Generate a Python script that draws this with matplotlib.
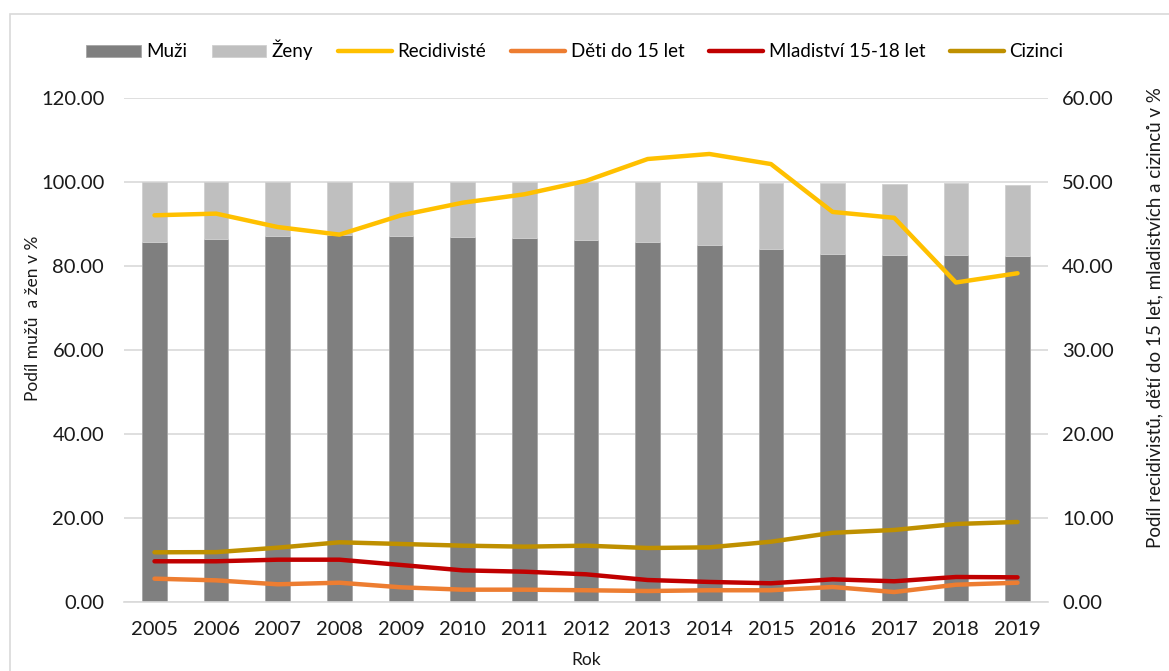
import matplotlib.pyplot as plt
from matplotlib.patches import Rectangle
import numpy as np

plt.rcParams['font.family'] = ['Lato', 'DejaVu Sans']

roky = ['2005', '2006', '2007', '2008', '2009', '2010', '2011', '2012',
        '2013', '2014', '2015', '2016', '2017', '2018', '2019']
muzi = [85.6, 86.4, 87.1, 87.3, 87.1, 86.8, 86.6, 86.1,
        85.6, 84.9, 84.0, 82.8, 82.5, 82.5, 82.2]
zeny = [14.4, 13.6, 12.9, 12.7, 12.9, 13.2, 13.4, 13.9,
        14.3, 15.1, 15.6, 16.8, 16.9, 17.1, 17.0]
recidiviste = [46.0, 46.2, 44.6, 43.7, 46.0, 47.5, 48.5, 50.1,
               52.7, 53.3, 52.1, 46.4, 45.7, 38.0, 39.1]
deti = [2.74, 2.54, 2.07, 2.26, 1.71, 1.43, 1.43, 1.36,
        1.27, 1.36, 1.36, 1.75, 1.15, 2.02, 2.26]
mladistvi = [4.81, 4.81, 5.0, 5.0, 4.37, 3.73, 3.57, 3.26,
             2.58, 2.35, 2.19, 2.66, 2.43, 2.94, 2.9]
cizinci = [5.88, 5.9, 6.43, 7.07, 6.87, 6.67, 6.55, 6.67,
           6.39, 6.47, 7.14, 8.2, 8.54, 9.25, 9.49]

x = np.arange(len(roky))
W, H = 1169, 671

fig = plt.figure(figsize=(W / 100, H / 100), dpi=100)
# chart area border (open to the right and bottom, as in the source crop)
fig.patches.append(Rectangle((10 / W, -0.05), 1.1, 1 - 14 / H + 0.05, transform=fig.transFigure,
                             fill=False, edgecolor='#d9d9d9', linewidth=1.2))
ax = fig.add_axes([0.1058, 0.1033, 0.791, 0.7511])
ax2 = ax.twinx()

b1 = ax.bar(x, muzi, width=0.4, color='#7f7f7f', edgecolor='#a6a6a6', linewidth=0.6,
            label='Muži', zorder=2)
b2 = ax.bar(x, zeny, width=0.4, bottom=muzi, color='#bfbfbf', edgecolor='#d0d0d0',
            linewidth=0.6, label='Ženy', zorder=2)

lw = 3.2
l1, = ax2.plot(x, recidiviste, color='#ffc000', lw=lw, solid_capstyle='round', label='Recidivisté')
l2, = ax2.plot(x, deti, color='#ed7d31', lw=lw, solid_capstyle='round', label='Děti do 15 let')
l3, = ax2.plot(x, mladistvi, color='#c00000', lw=lw, solid_capstyle='round', label='Mladiství 15-18 let')
l4, = ax2.plot(x, cizinci, color='#bf9000', lw=lw, solid_capstyle='round', label='Cizinci')

ax.set_xlim(-0.5, len(roky) - 0.5)
ax.set_ylim(0, 120)
ax2.set_ylim(0, 60)
ax.set_yticks(np.arange(0, 121, 20))
ax2.set_yticks(np.arange(0, 61, 10))
ax.yaxis.set_major_formatter(lambda v, p: f'{v:.2f}')
ax2.yaxis.set_major_formatter(lambda v, p: f'{v:.2f}')
ax.set_xticks(x)
ax.set_xticklabels(roky)

ax.grid(axis='y', color='#d9d9d9', linewidth=1.2, zorder=0)
ax.set_axisbelow(True)
for a in (ax, ax2):
    for s in a.spines.values():
        s.set_visible(False)
    a.tick_params(length=0, labelsize=14.5, colors='#1a1a1a')
ax.spines['bottom'].set_visible(True)
ax.spines['bottom'].set_color('#d9d9d9')
ax.spines['bottom'].set_linewidth(1.2)
ax.tick_params(axis='y', pad=14)
ax2.tick_params(axis='y', pad=10)
ax.tick_params(axis='x', pad=14)

fig.text(586 / W, 1 - 660 / H, 'Rok', ha='center', va='center', fontsize=12.5, color='#1a1a1a')
fig.text(33 / W, 1 - 318 / H, 'Podíl mužů  a žen v %', rotation=90,
         ha='center', va='center', fontsize=12.5, color='#1a1a1a')
fig.text(1155 / W, 1 - 318 / H,
         'Podíl recidivistů, dětí do 15 let, mladistvích a cizinců v %', rotation=90,
         ha='center', va='center', fontsize=13.5, color='#1a1a1a')

fig.legend(handles=[b1, b2, l1, l2, l3, l4], loc='center', ncol=6,
           bbox_to_anchor=(575 / W, 1 - 50 / H), frameon=False, fontsize=13.5,
           handlelength=2.9, handleheight=0.6, handletextpad=0.3, columnspacing=1.3)

fig.savefig('out.png', dpi=100)
